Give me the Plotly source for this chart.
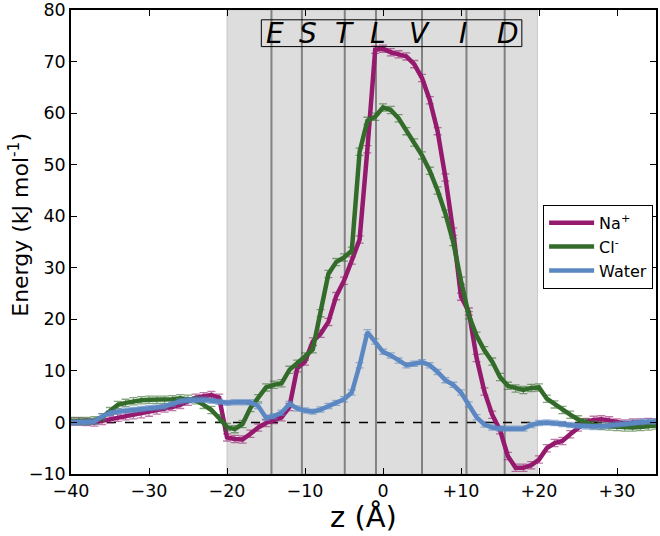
import plotly.graph_objects as go

z = list(range(-40, 36))

na = [0.2, 0.2, 0.1, 0.0, 0.3, 0.6, 0.9, 1.2, 1.4, 1.6,
      1.9, 2.3, 2.7, 3.0, 3.4, 4.0, 4.8, 5.1, 5.3, 4.8,
      -2.9, -3.2, -3.3, -2.2, -1.0, -0.1, 0.5, 1.0, 3.0, 10.5,
      11.8, 15.7, 17.2, 19.5, 24.5, 27.5, 31.4, 35.5, 53.0, 72.3,
      72.5, 71.8, 71.4, 71.0, 69.5, 66.8, 62.5, 56.5, 47.5, 37.0,
      24.4, 21.5, 12.5, 6.0, 1.5, -1.5, -6.5, -8.8, -8.8, -8.3,
      -7.2, -5.0, -4.0, -3.6, -2.3, -1.0, 0.1, 0.5, 0.6, 0.4,
      0.0, -0.2, 0.0, 0.0, 0.1, 0.0]

cl = [0.3, 0.3, 0.3, 0.4, 1.0, 2.2, 3.4, 3.8, 4.1, 4.3,
      4.4, 4.4, 4.4, 4.5, 4.7, 4.6, 4.3, 3.4, 2.4, 0.8,
      -0.9, -1.3, -0.3, 2.8, 4.7, 6.8, 7.3, 7.6, 10.2, 11.4,
      12.8, 14.2, 21.2, 28.8, 31.1, 32.0, 33.3, 52.5, 58.5, 59.3,
      61.1, 60.6, 59.0, 56.5, 54.3, 51.8, 48.8, 45.0, 40.5, 35.0,
      27.5, 20.8, 16.8, 14.0, 11.8, 8.8, 7.1, 6.6, 6.3, 6.7,
      6.8, 4.6, 3.5, 2.4, 1.5, 0.6, 0.0, -0.5, -0.7, -0.8,
      -0.9, -1.0, -1.0, -0.9, -0.8, -0.6]

water = [0.0, 0.0, 0.0, 0.2, 1.2, 1.8, 2.1, 2.3, 2.4, 2.6,
         2.8, 2.9, 3.1, 3.6, 4.1, 4.3, 4.4, 4.4, 4.2, 4.0,
         3.8, 3.9, 3.9, 3.9, 3.2, 0.9, 1.2, 1.9, 3.6, 2.7,
         2.3, 2.1, 2.5, 3.2, 3.8, 4.5, 5.8, 11.1, 17.5, 15.7,
         13.7, 13.0, 12.0, 11.1, 11.4, 11.7, 11.1, 9.8, 8.2, 7.3,
         5.8, 3.5, 1.0, -0.4, -1.0, -1.2, -1.2, -1.2, -1.2, -0.5,
         -0.1, 0.0, -0.1, -0.3, -0.5, -0.7, -0.8, -0.9, -0.8, -0.6,
         -0.4, -0.2, 0.0, 0.1, 0.2, 0.2]

na_err = [0.7] * len(z)
cl_err = [0.7] * len(z)
water_err = [0.5] * len(z)

residues = ["E", "S", "T", "L", "V", "I", "D"]
residue_z = [-13.8, -9.6, -4.9, -0.6, 4.7, 10.3, 16.0]
boundaries = [-14.3, -10.4, -4.9, -0.9, 5.0, 10.7, 15.6]
region = [-20.0, 19.8]

x_ticks = [-40, -30, -20, -10, 0, 10, 20, 30]
x_ticktext = ["\u221240", "\u221230", "\u221220", "\u221210", "0", "+10", "+20", "+30"]
y_ticks = [-10, 0, 10, 20, 30, 40, 50, 60, 70, 80]
y_ticktext = ["\u221210", "0", "10", "20", "30", "40", "50", "60", "70", "80"]

FONT = "DejaVu Sans, sans-serif"

fig = go.Figure()

series = [
    ("Na<sup>+</sup>", na, na_err, "#951a6e", "rgba(149,26,110,0.6)"),
    ("Cl<sup>-</sup>", cl, cl_err, "#336b2a", "rgba(51,107,42,0.6)"),
    ("Water", water, water_err, "#5b87c2", "rgba(91,135,194,0.6)"),
]
for name, vals, err, col, ecol in series:
    fig.add_trace(go.Scatter(
        x=z, y=vals, mode="lines", name=name,
        line=dict(color=col, width=4.5),
        error_y=dict(type="data", array=err, visible=True, color=ecol,
                     thickness=1.3, width=4),
    ))

shapes = [
    dict(type="rect", xref="x", yref="paper", x0=region[0], x1=region[1],
         y0=0, y1=1, fillcolor="#dddddd", line=dict(color="#c8c8c8", width=1),
         layer="below"),
]
for b in boundaries:
    shapes.append(dict(type="line", xref="x", yref="paper", x0=b, x1=b, y0=0, y1=1,
                       line=dict(color="#828282", width=2), layer="below"))
shapes.append(dict(type="line", xref="x", yref="y", x0=-40, x1=35, y0=0, y1=0,
                   line=dict(color="black", width=1.5, dash="dash"), layer="below"))
shapes.append(dict(type="rect", xref="x", yref="y", x0=-15.6, x1=17.8, y0=72.9, y1=78.1,
                   line=dict(color="black", width=1), fillcolor="rgba(0,0,0,0)"))

annotations = []
for r, rz in zip(residues, residue_z):
    annotations.append(dict(x=rz, y=75.5, xref="x", yref="y", text="<i>" + r + "</i>",
                            showarrow=False, font=dict(family=FONT, size=28, color="black")))
annotations.append(dict(x=-0.089, y=0.537, xref="paper", yref="paper",
                        text="Energy (kJ mol<sup>-1</sup>)", textangle=-90,
                        showarrow=False, xanchor="center", yanchor="middle",
                        font=dict(family=FONT, size=22, color="black")))
annotations.append(dict(x=0.5, y=-0.093, xref="paper", yref="paper",
                        text="z (Å)", showarrow=False, xanchor="center", yanchor="middle",
                        font=dict(family=FONT, size=29, color="black")))

fig.update_layout(
    width=660, height=536,
    margin=dict(l=71, r=4, t=10, b=62),
    paper_bgcolor="white", plot_bgcolor="white",
    font=dict(family=FONT, size=17.5, color="black"),
    shapes=shapes, annotations=annotations,
    showlegend=True,
    legend=dict(x=0.807, y=0.58, xanchor="left", yanchor="top",
                bgcolor="white", bordercolor="black", borderwidth=1,
                font=dict(family=FONT, size=16), tracegroupgap=2, itemwidth=45),
    xaxis=dict(range=[-40, 35], tickvals=x_ticks, ticktext=x_ticktext,
               ticks="inside", ticklen=6, tickwidth=1, tickcolor="black",
               showline=True, linecolor="black", linewidth=1.5, mirror="ticks",
               showgrid=False, zeroline=False, automargin=False,
               ticklabeloverflow="allow"),
    yaxis=dict(range=[-10, 80], tickvals=y_ticks, ticktext=y_ticktext,
               ticks="inside", ticklen=6, tickwidth=1, tickcolor="black",
               showline=True, linecolor="black", linewidth=1.5, mirror="ticks",
               showgrid=False, zeroline=False, automargin=False,
               ticklabeloverflow="allow"),
)

fig.write_html("out.html", config={"displayModeBar": False},
               post_script="document.body.style.margin='0px';")
